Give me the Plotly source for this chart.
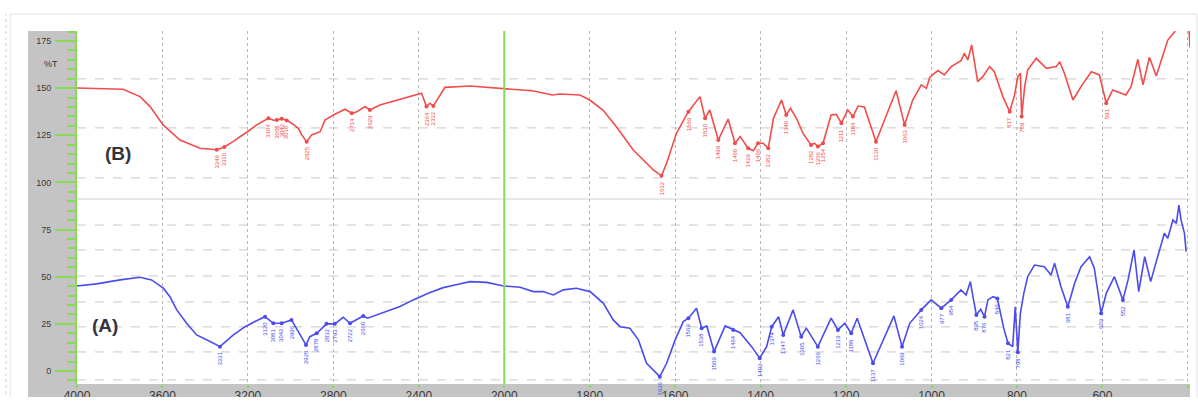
import numpy as np
import plotly.graph_objects as go

# ---------------- data (wavenumber cm-1, %T) ----------------
b_wn = [4000, 3930, 3860, 3784, 3705, 3658, 3597, 3518, 3424, 3346, 3310, 3270, 3206, 3159,
        3104, 3080, 3065, 3042, 3018, 2990, 2964, 2948, 2925, 2902, 2862, 2839, 2800, 2745,
        2714, 2690, 2652, 2629, 2582, 2488, 2387, 2364, 2348, 2332, 2278, 2160, 2000, 1934,
        1887, 1870, 1823, 1800, 1769, 1738, 1698, 1651, 1632, 1620, 1597, 1569, 1542, 1530,
        1519, 1499, 1476, 1460, 1448, 1429, 1417, 1406, 1394, 1382, 1370, 1351, 1340, 1330,
        1315, 1301, 1282, 1274, 1266, 1254, 1235, 1223, 1211, 1196, 1184, 1172, 1157, 1130,
        1110, 1083, 1063, 1044, 1024, 1012, 1004, 985, 970, 954, 931, 923, 915, 906, 892,
        880, 864, 853, 833, 817, 806, 798, 792, 789, 782, 775, 755, 731, 708, 700, 689, 669,
        650, 626, 607, 591, 576, 545, 533, 517, 505, 490, 474, 447, 431, 420, 405, 397, 395]
b_t = [150.1, 150.0, 149.5, 149.4, 145.5, 140.2, 130.5, 122.5, 118.1, 117.3, 118.8, 121.6, 126.6, 130.5,
       134.0, 133.0, 133.1, 133.8, 132.9, 131.0, 128.7, 125.2, 121.6, 125.2, 126.9, 133.1, 135.8, 138.8,
       136.7, 137.5, 140.2, 138.4, 141.1, 144.1, 147.3, 140.2, 142.0, 140.5, 150.4, 151.1, 149.9, 148.6,
       146.4, 146.9, 146.4, 143.7, 138.4, 129.6, 117.2, 106.6, 103.5, 110.2, 126.1, 137.5, 145.5, 134.0,
       138.4, 122.5, 133.6, 120.8, 124.3, 118.1, 116.8, 120.8, 120.8, 118.1, 134.0, 143.7, 135.8, 139.3,
       133.5, 126.1, 119.9, 120.8, 119.0, 120.8, 135.8, 136.1, 131.4, 138.4, 134.9, 140.5, 140.0, 121.6,
       133.1, 148.6, 130.5, 143.7, 151.7, 149.9, 155.8, 159.3, 157.0, 161.4, 164.6, 168.5, 164.9, 172.9, 153.4,
       156.1, 161.4, 158.7, 145.5, 137.5, 146.0, 156.1, 157.9, 134.9, 150.7, 159.6, 165.8, 160.5, 161.4, 164.0, 157.9, 143.7,
       150.8, 158.7, 157.0, 142.0, 149.0, 146.4, 150.8, 165.3, 151.7, 166.4, 156.4, 175.5, 179.9, 186.0, 186.0, 180.0, 171.5]

a_wn = [4000, 3908, 3798, 3705, 3651, 3596, 3565, 3533, 3487, 3440, 3377, 3331, 3268, 3213,
        3167, 3120, 3081, 3042, 2996, 2964, 2928, 2910, 2878, 2832, 2793, 2754, 2722, 2660,
        2640, 2488, 2426, 2356, 2286, 2231, 2160, 2082, 2004, 1963, 1932, 1909, 1885, 1862,
        1831, 1799, 1768, 1745, 1729, 1706, 1686, 1667, 1636, 1620, 1600, 1581, 1569, 1550,
        1538, 1526, 1509, 1483, 1464, 1448, 1421, 1402, 1386, 1374, 1358, 1347, 1324, 1305,
        1293, 1266, 1235, 1219, 1203, 1188, 1174, 1137, 1088, 1069, 1051, 1024, 1001, 977,
        954, 931, 919, 909, 903, 895, 885, 876, 868, 856, 846, 837, 831, 821, 810, 804, 798,
        792, 784, 775, 759, 736, 720, 712, 697, 681, 665, 650, 630, 619, 603, 591, 572, 552,
        540, 526, 515, 501, 487, 474, 455, 447, 435, 427, 421, 416, 408, 404]
a_t = [45.1, 46.2, 48.3, 49.7, 48.3, 43.9, 39.4, 32.4, 25.3, 19.1, 15.6, 12.9, 19.1, 23.5,
       26.2, 28.8, 25.3, 25.3, 27.1, 20.9, 13.8, 18.2, 20.0, 25.0, 25.0, 28.5, 25.3, 29.2,
       28.0, 34.2, 37.7, 41.2, 44.2, 45.6, 47.4, 47.0, 45.1, 44.4, 42.1, 42.1, 40.3, 43.0,
       43.9, 42.1, 35.9, 27.1, 23.5, 22.7, 16.5, 4.1, -3.0, 4.1, 16.5, 26.2, 28.0, 33.3,
       22.7, 23.9, 10.3, 23.9, 21.8, 20.3, 12.9, 6.8, 12.9, 23.5, 28.8, 19.1, 32.4, 18.2,
       22.7, 12.9, 28.0, 21.8, 25.3, 20.0, 28.0, 4.1, 29.2, 12.9, 25.3, 32.4, 37.7, 33.3,
       37.7, 43.0, 40.3, 47.4, 39.4, 29.7, 32.7, 28.8, 37.7, 39.4, 38.5, 29.7, 22.7, 14.7, 12.9, 34.1, 10.0,
       30.6, 41.2, 50.0, 56.2, 55.3, 50.9, 57.1, 44.7, 34.1, 46.5, 55.3, 60.6, 54.5, 30.6, 41.2, 50.0, 37.7,
       48.3, 64.2, 42.1, 60.6, 47.4, 58.0, 73.0, 70.4, 80.1, 78.3, 88.0, 80.1, 73.0, 63.3]

b_peaks = [3346, 3310, 3104, 3065, 3042, 3018, 2925, 2714, 2629, 2364, 2332, 1632, 1569,
           1530, 1499, 1460, 1429, 1406, 1382, 1340, 1282, 1266, 1254, 1211, 1184, 1130,
           1063, 817, 789, 591]
a_peaks = [3331, 3120, 3081, 3042, 2996, 2928, 2878, 2832, 2793, 2722, 2660, 1636, 1569,
           1538, 1509, 1464, 1402, 1374, 1347, 1305, 1266, 1219, 1188, 1137, 1069, 1024,
           977, 954, 895, 876, 846, 821, 798, 681, 603, 552]

x_ticks = [4000, 3600, 3200, 2800, 2400, 2000, 1800, 1600, 1400, 1200, 1000, 800, 600, 400]
y_ticks = [0, 25, 50, 75, 100, 125, 150, 175]
hgrid = [154.9, 128.9, 102.4, 77.4, 64.2, 50.4, 36.6, 23.4, 10.1, -4.7]
panel_sep = 91.2


def to_u(w):
    """FTIR display scale: 4000-2000 region compressed by factor 2."""
    w = np.asarray(w, dtype=float)
    return np.where(w > 2000, 2000 + (w - 2000) / 2.0, w)


RED = "#f24c4c"
BLUE = "#4b4bee"
GREEN = "#86dc55"

fig = go.Figure()
fig.add_trace(go.Scatter(x=to_u(b_wn), y=b_t, mode="lines",
                         line=dict(color=RED, width=1.6), showlegend=False))
fig.add_trace(go.Scatter(x=to_u(a_wn), y=a_t, mode="lines",
                         line=dict(color=BLUE, width=1.6), showlegend=False))

# peak markers + labels
ann = []
for peaks, wn, t, col in [(b_peaks, b_wn, b_t, RED), (a_peaks, a_wn, a_t, BLUE)]:
    wn_r = np.array(wn[::-1], float)
    t_r = np.array(t[::-1], float)
    pv = np.interp(peaks, wn_r, t_r)
    fig.add_trace(go.Scatter(x=to_u(peaks), y=pv, mode="markers",
                             marker=dict(color=col, size=4), showlegend=False))
    for p, v in zip(peaks, pv):
        ann.append(dict(x=float(to_u(p)), y=float(v), text=str(p), textangle=-90,
                        showarrow=False, yanchor="top", xanchor="center", yshift=-3,
                        font=dict(size=6, color=col, family="Liberation Sans")))

ann += [
    dict(x=-0.031, y=162.8, xref="paper", yref="y", text="%T", showarrow=False,
         font=dict(size=9, color="#333333", family="Liberation Sans")),
    dict(x=float(to_u(3808)), y=115.6, text="<b>(B)</b>", showarrow=False,
         font=dict(size=19, color="#333340", family="Liberation Sans")),
    dict(x=float(to_u(3869)), y=23.9, text="<b>(A)</b>", showarrow=False,
         font=dict(size=19, color="#333340", family="Liberation Sans")),
]

shapes = []
# outer frame
shapes.append(dict(type="rect", xref="paper", yref="paper", x0=-0.0602, x1=1.0063,
                   y0=-0.0623, y1=1.048, line=dict(color="#e2e2e2", width=1), layer="below"))
shapes.append(dict(type="line", xref="paper", yref="paper", x0=-0.0638, x1=-0.0638,
                   y0=-0.0623, y1=1.048, line=dict(color="#cfcfcf", width=1, dash="dot"), layer="below"))
# gray axis bands
shapes.append(dict(type="rect", xref="paper", yref="paper", x0=-0.044, x1=0, y0=-0.0368, y1=1.0,
                   fillcolor="#c4c4c4", line=dict(width=0), layer="below"))
shapes.append(dict(type="rect", xref="paper", yref="paper", x0=-0.044, x1=1.0, y0=-0.0368, y1=0,
                   fillcolor="#c4c4c4", line=dict(width=0), layer="below"))
# horizontal grid
for g in hgrid:
    shapes.append(dict(type="line", xref="paper", yref="y", x0=0, x1=1, y0=g, y1=g,
                       line=dict(color="#c8c8c8", width=1, dash="dash"), layer="below"))
shapes.append(dict(type="line", xref="paper", yref="y", x0=0, x1=1, y0=panel_sep, y1=panel_sep,
                   line=dict(color="#d0d0d0", width=1), layer="below"))
# green line at 2000
shapes.append(dict(type="line", xref="x", yref="paper", x0=float(to_u(2000)), x1=float(to_u(2000)),
                   y0=0, y1=1, line=dict(color=GREEN, width=2), layer="above"))
# white strip below the band (tick labels are cut off there in the reference)
shapes.append(dict(type="rect", xref="paper", yref="paper", x0=-0.08, x1=1.02, y0=-0.09, y1=-0.0368,
                   fillcolor="white", line=dict(width=0), layer="above"))

fig.update_layout(
    width=1198, height=407,
    margin=dict(l=77, r=8, t=31, b=23, autoexpand=False),
    paper_bgcolor="white", plot_bgcolor="white",
    font=dict(family="Liberation Sans", color="#333333"),
    annotations=ann, shapes=shapes,
    showlegend=False,
)
fig.update_xaxes(
    range=[3000, 395], tickmode="array",
    tickvals=[float(v) for v in to_u(x_ticks)], ticktext=[str(v) for v in x_ticks],
    showgrid=True, gridcolor="#b8b8b8", griddash="dot", gridwidth=1,
    ticks="outside", ticklen=3, tickcolor=GREEN, tickwidth=2,
    tickfont=dict(size=12, color="#3a3a3a"), showline=False, zeroline=False,
    ticklabelstandoff=-2, automargin=False,
)
fig.update_yaxes(
    range=[-6.9, 180.3], tickmode="linear", tick0=0, dtick=25,
    showgrid=False, zeroline=False,
    ticks="outside", ticklen=20, tickcolor=GREEN, tickwidth=2,
    minor=dict(dtick=5, ticks="outside", ticklen=8, tickcolor=GREEN, tickwidth=2, showgrid=False),
    showline=True, linecolor=GREEN, linewidth=2,
    tickfont=dict(size=9, color="#3a3a3a"), ticklabelstandoff=2, automargin=False,
)

fig.write_html("out.html")
